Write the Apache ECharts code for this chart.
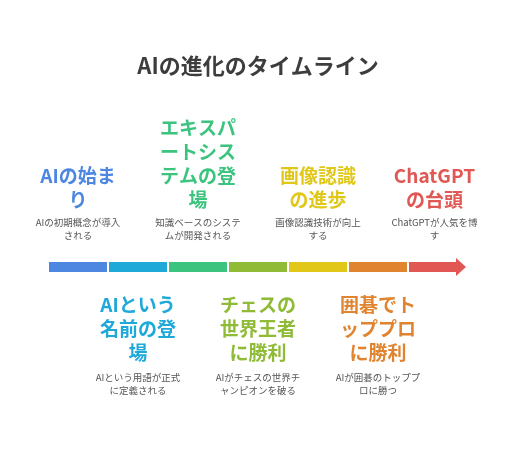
<!DOCTYPE html>
<html><head><meta charset="utf-8">
<script src="https://cdn.jsdelivr.net/npm/echarts@6/dist/echarts.min.js"></script>
<style>html,body{margin:0;padding:0;background:#fff}#c{width:516px;height:450px}</style>
</head><body><div id="c"></div>
<script>
const chartTitle = 'AIの進化のタイムライン';
const stepIndex = [0, 1, 2, 3, 4, 5, 6];
const stepTitles = ['AIの始ま\nり', 'AIという\n名前の登\n場', 'エキスパ\nートシス\nテムの登\n場', 'チェスの\n世界王者\nに勝利', '画像認識\nの進歩', '囲碁でト\nッププロ\nに勝利', 'ChatGPT\nの台頭'];
const stepDescs = ['AIの初期概念が導入\nされる', 'AIという用語が正式\nに定義される', '知識ベースのシステ\nムが開発される', 'AIがチェスの世界チ\nャンピオンを破る', '画像認識技術が向上\nする', 'AIが囲碁のトッププ\nロに勝つ', 'ChatGPTが人気を博\nす'];
const stepColors = ['#4d87e1', '#1fa9d9', '#3cc47f', '#8fbb37', '#e0c718', '#e0842f', '#e15753'];

const FONT = '"Noto Sans CJK JP", "Noto Sans", sans-serif';
const chart = echarts.init(document.getElementById('c'));
chart.setOption({
  backgroundColor: '#fff',
  animation: false,
  title: { text: chartTitle, left: 'center', top: 50,
    textStyle: { fontFamily: FONT, fontSize: 22, fontWeight: 'bold', color: '#3d3d3d' } },
  grid: { left: 49, right: 47, top: 262, height: 10 },
  xAxis: { type: 'value', min: 0, max: 7, show: false },
  yAxis: { type: 'value', min: 0, max: 1, show: false },
  series: [{
    type: 'custom',
    data: stepIndex.map(i => [i]),
    renderItem: function (params, api) {
      const i = api.value(0);
      const p0 = api.coord([i, 0.5]);
      const p1 = api.coord([i + 1, 0.5]);
      const yc = p0[1];
      const last = i === stepIndex.length - 1;
      const x0 = p0[0], x1 = last ? p1[0] - 12 : p1[0] - 2;
      const cx = last ? (x0 + p1[0] - 3) / 2 - 3 : (x0 + x1) / 2;
      const col = stepColors[i];
      const top = i % 2 === 0;
      const children = [{
        type: 'rect', shape: { x: x0, y: yc - 5, width: x1 - x0, height: 10 },
        style: { fill: col }
      }];
      if (last) {
        children.push({ type: 'polygon', shape: { points: [[x1 - 1, yc - 9], [p1[0] - 3, yc], [x1 - 1, yc + 9]] }, style: { fill: col } });
      }
      if (top) {
        children.push({ type: 'text', x: cx, y: 212, style: { text: stepTitles[i], fill: col,
          font: 'bold 19px ' + FONT, lineHeight: 24, align: 'center', verticalAlign: 'bottom' } });
        children.push({ type: 'text', x: cx, y: 216, style: { text: stepDescs[i], fill: '#555',
          font: '9.5px ' + FONT, lineHeight: 13, align: 'center', verticalAlign: 'top' } });
      } else {
        children.push({ type: 'text', x: cx, y: 293, style: { text: stepTitles[i], fill: col,
          font: 'bold 19px ' + FONT, lineHeight: 24, align: 'center', verticalAlign: 'top' } });
        children.push({ type: 'text', x: cx, y: 371, style: { text: stepDescs[i], fill: '#555',
          font: '9.5px ' + FONT, lineHeight: 13, align: 'center', verticalAlign: 'top' } });
      }
      return { type: 'group', children: children };
    }
  }]
});
</script></body></html>
